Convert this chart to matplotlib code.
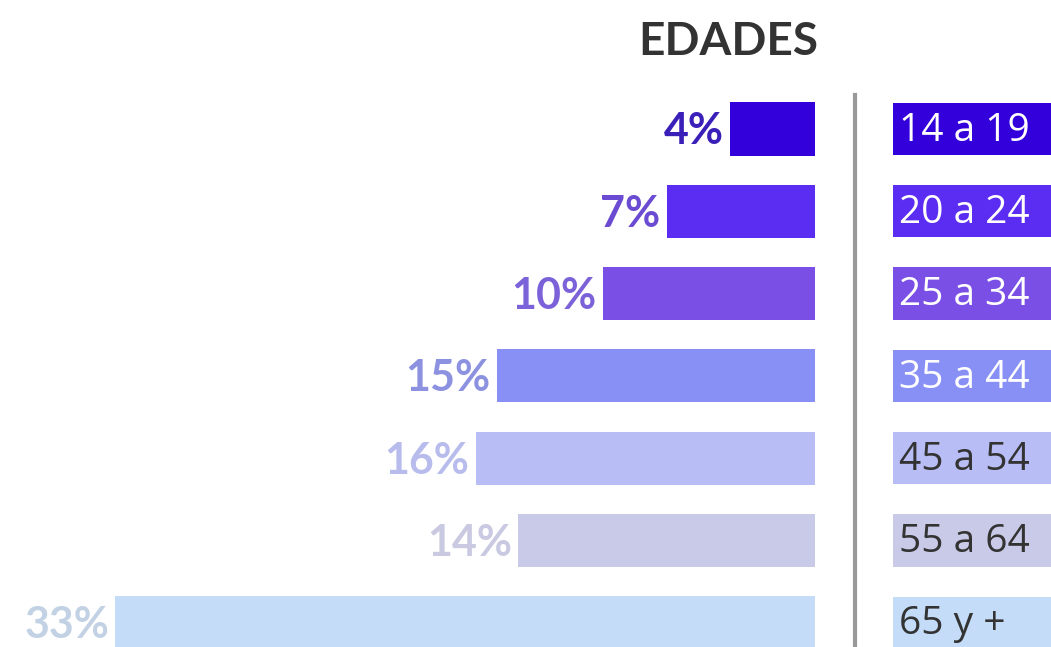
import matplotlib.pyplot as plt

# datos
edades = ['14 a 19', '20 a 24', '25 a 34', '35 a 44', '45 a 54', '55 a 64', '65 y +']
porcentajes = [4, 7, 10, 15, 16, 14, 33]
colores_barra = ['#3300dc', '#5b2cf2', '#7a4fe6', '#8890f6', '#b9bdf6', '#c9cae8', '#c4dcf8']
colores_pct = ['#3a1fb8', '#6a4bd2', '#7c62d8', '#8c92e0', '#b8bcec', '#c9c9e2', '#c2d2e4']
colores_etq = ['white', 'white', 'white', 'white', '#333333', '#333333', '#333333']

W, H = 1051, 647
fig = plt.figure(figsize=(W / 100, H / 100), dpi=100)
fig.patch.set_facecolor('white')

# barras (crecen hacia la izquierda)
ax = fig.add_axes([0, 0, 815 / W, 1])
ax.barh(range(len(edades)), porcentajes, height=0.645, color=colores_barra)
ax.set_xlim(815 / 21.2, 0)
ax.set_ylim(6.294, -1.567)
ax.axis('off')

for i, p in enumerate(porcentajes):
    ax.text(p + 0.3, i + 0.03, f'{p}%', ha='right', va='center',
            fontsize=31, fontweight='bold', family='Lato', color=colores_pct[i])

# etiquetas de edad a la derecha
ax2 = fig.add_axes([845 / W, 0, 206 / W, 1])
ax2.barh(range(len(edades)), [1.5] * len(edades), left=(893 - 845) / 206,
         height=0.635, color=colores_barra)
ax2.set_xlim(0, 1)
ax2.set_ylim(6.294, -1.567)
ax2.axvline(x=10 / 206, ymin=0, ymax=1 - 95 / H, color='#999999', lw=3)
ax2.axis('off')

for i, e in enumerate(edades):
    ax2.text((899 - 845) / 206, i + 0.02, e, ha='left', va='center',
             fontsize=28, family='Open Sans', color=colores_etq[i])

fig.text(728 / W, 1 - 42 / H, 'EDADES', ha='center', va='center',
         fontsize=33, family='Lato', fontweight='bold', color='#333333')

fig.savefig('out.png', dpi=100, facecolor='white')
